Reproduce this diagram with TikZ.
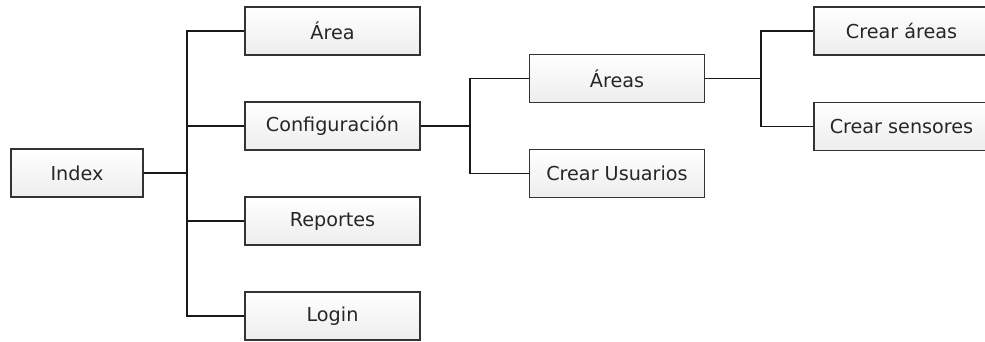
\documentclass[tikz,border=0pt]{standalone}
\usepackage{fontspec}
\setmainfont{DejaVu Sans}
\begin{document}
\begin{tikzpicture}[x=1pt,y=-1pt,
  box/.style={draw=black!80, line width=1.7pt, top color=white, bottom color=black!7,
    minimum width=175pt, minimum height=48pt, inner sep=0pt, text=black!85,
    font=\fontsize{19.2}{22}\selectfont},
  smallbox/.style={box, minimum width=132pt},
  conn/.style={draw=black!90, line width=1.7pt}]
\useasboundingbox (0,0) rectangle (985,342);
\node[smallbox] (idx) at (77,173) {Index};
\node[box] (area) at (332.5,31) {Área};
\node[box] (conf) at (332.5,126) {Configuración};
\node[box] (rep) at (332.5,221) {Reportes};
\node[box] (login) at (332.5,316) {Login};
\node[box] (areas) at (617,78.5) {Áreas};
\node[box] (usr) at (617,173.5) {Crear Usuarios};
\node[box] (carea) at (901.5,31) {Crear áreas};
\node[box] (csens) at (901.5,126.5) {Crear sensores};
\coordinate (j1) at (187,173);
\coordinate (j2) at (470,126);
\coordinate (j3) at (761,78.5);
\draw[conn] (idx.east) -- (j1);
\draw[conn] (area.west) -| (j1);
\draw[conn] (login.west) -| (j1);
\draw[conn] (j1 |- conf.west) -- (conf.west);
\draw[conn] (j1 |- rep.west) -- (rep.west);
\draw[conn] (conf.east) -- (j2);
\draw[conn] (areas.west) -| (j2);
\draw[conn] (usr.west) -| (j2);
\draw[conn] (areas.east) -- (j3);
\draw[conn] (carea.west) -| (j3);
\draw[conn] (csens.west) -| (j3);
\end{tikzpicture}
\end{document}
